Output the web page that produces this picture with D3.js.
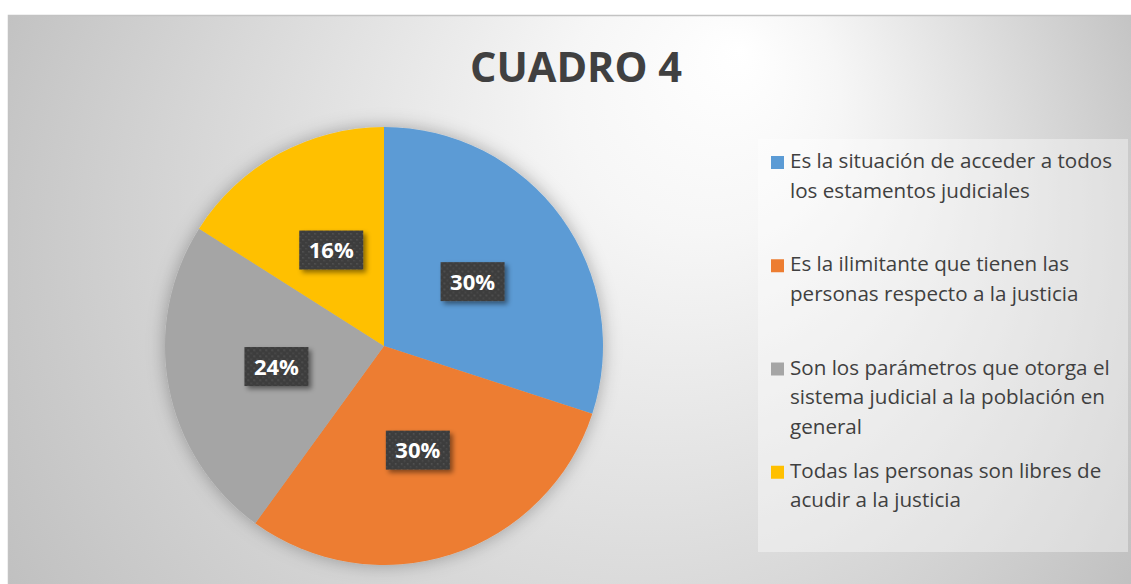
<!DOCTYPE html>
<html>
<head>
<meta charset="utf-8">
<script src="https://cdn.jsdelivr.net/npm/d3@7"></script>
<style>
  html, body { margin: 0; padding: 0; background: #fff; }
  svg { display: block; }
</style>
</head>
<body>
<script>
// data
const categories = [
    "Es la situación de acceder a todos los estamentos judiciales",
    "Es la ilimitante que tienen las personas respecto a la justicia",
    "Son los parámetros que otorga el sistema judicial a la población en general",
    "Todas las personas son libres de acudir a la justicia"
];
const legendLines = [
    ["Es la situación de acceder a todos", "los estamentos judiciales"],
    ["Es la ilimitante que tienen las", "personas respecto a la justicia"],
    ["Son los parámetros que otorga el", "sistema judicial a la población en", "general"],
    ["Todas las personas son libres de", "acudir a la justicia"]
];
const values = [30, 30, 24, 16];
const colors = ["#5B9BD5", "#ED7D31", "#A5A5A5", "#FFC000"];
const title = "CUADRO 4";

const width = 1131, height = 584;
const font = "'Open Sans', 'DejaVu Sans', sans-serif";

const svg = d3.select("body").append("svg")
    .attr("width", width)
    .attr("height", height);

const defs = svg.append("defs");

// chart background
const bg = defs.append("radialGradient")
    .attr("id", "bgGrad")
    .attr("gradientUnits", "userSpaceOnUse")
    .attr("cx", 560).attr("cy", 292).attr("r", 680)
    .attr("fx", 740).attr("fy", 50);
bg.append("stop").attr("offset", "0").attr("stop-color", "#ffffff");
bg.append("stop").attr("offset", "0.2").attr("stop-color", "#f6f6f6");
bg.append("stop").attr("offset", "1").attr("stop-color", "#bcbcbc");

const glow = defs.append("filter").attr("id", "pieGlow")
    .attr("x", "-20%").attr("y", "-20%").attr("width", "140%").attr("height", "140%");
glow.append("feDropShadow")
    .attr("dx", 0).attr("dy", 0).attr("stdDeviation", 9)
    .attr("flood-color", "#000").attr("flood-opacity", 0.3);

const boxShadow = defs.append("filter").attr("id", "boxShadow")
    .attr("x", "-30%").attr("y", "-30%").attr("width", "160%").attr("height", "160%");
boxShadow.append("feDropShadow")
    .attr("dx", 3).attr("dy", 3).attr("stdDeviation", 2.5)
    .attr("flood-color", "#000").attr("flood-opacity", 0.45);

const dots = defs.append("pattern")
    .attr("id", "dots")
    .attr("patternUnits", "userSpaceOnUse")
    .attr("width", 6).attr("height", 6);
dots.append("rect").attr("width", 6).attr("height", 6).attr("fill", "#3e3e3e");
dots.append("rect").attr("x", 1).attr("y", 1).attr("width", 1.5).attr("height", 1.5).attr("fill", "#565656");
dots.append("rect").attr("x", 4).attr("y", 4).attr("width", 1.5).attr("height", 1.5).attr("fill", "#4c4c4c");

svg.append("rect")
    .attr("x", 8.5).attr("y", 15.5)
    .attr("width", 1130).attr("height", 580)
    .attr("fill", "url(#bgGrad)")
    .attr("stroke", "#c3c3c3")
    .attr("stroke-width", 1.5);

svg.append("text")
    .attr("x", 576).attr("y", 82)
    .attr("text-anchor", "middle")
    .attr("font-family", font)
    .attr("font-weight", "bold")
    .attr("font-size", 41.5)
    .attr("fill", "#404040")
    .text(title);

// pie
const cx = 384, cy = 346, radius = 219;
const pie = d3.pie().sort(null).value(d => d);
const arcs = pie(values);
const arc = d3.arc().innerRadius(0).outerRadius(radius);

const g = svg.append("g").attr("transform", `translate(${cx},${cy})`);

g.append("g")
    .attr("filter", "url(#pieGlow)")
    .selectAll("path")
    .data(arcs)
    .enter().append("path")
    .attr("d", arc)
    .attr("fill", (d, i) => colors[i]);

const boxW = 64, boxH = 39;
const labels = g.selectAll("g.lbl")
    .data(arcs)
    .enter().append("g")
    .attr("class", "lbl")
    .attr("transform", d => "translate(" + arc.centroid(d) + ")");

labels.append("rect")
    .attr("x", -boxW / 2).attr("y", -boxH / 2)
    .attr("width", boxW).attr("height", boxH)
    .attr("fill", "url(#dots)")
    .attr("filter", "url(#boxShadow)");

labels.append("text")
    .attr("text-anchor", "middle")
    .attr("y", 8)
    .attr("font-family", font)
    .attr("font-weight", "bold")
    .attr("font-size", 22)
    .attr("fill", "#ffffff")
    .text(d => d3.format(".0%")(d.data / d3.sum(values)));

// legend
const legX = 758, legY = 139, legW = 370, legH = 413;
svg.append("rect")
    .attr("x", legX).attr("y", legY)
    .attr("width", legW).attr("height", legH)
    .attr("fill", "#ffffff")
    .attr("fill-opacity", 0.38);

const band = d3.scaleBand()
    .domain(categories)
    .range([legY, legY + legH]);

const item = svg.selectAll("g.leg")
    .data(categories)
    .enter().append("g")
    .attr("class", "leg")
    .attr("transform", d => `translate(${legX},${band(d)})`);

item.append("rect")
    .attr("x", 13).attr("y", 17)
    .attr("width", 13).attr("height", 13)
    .attr("fill", (d, i) => colors[i]);

item.append("text")
    .attr("font-family", font)
    .attr("font-size", 20.6)
    .attr("fill", "#404040")
    .selectAll("tspan")
    .data((d, i) => legendLines[i])
    .enter().append("tspan")
    .attr("x", 32)
    .attr("y", (d, j) => 29 + j * 29.5)
    .text(d => d);
</script>
</body>
</html>
